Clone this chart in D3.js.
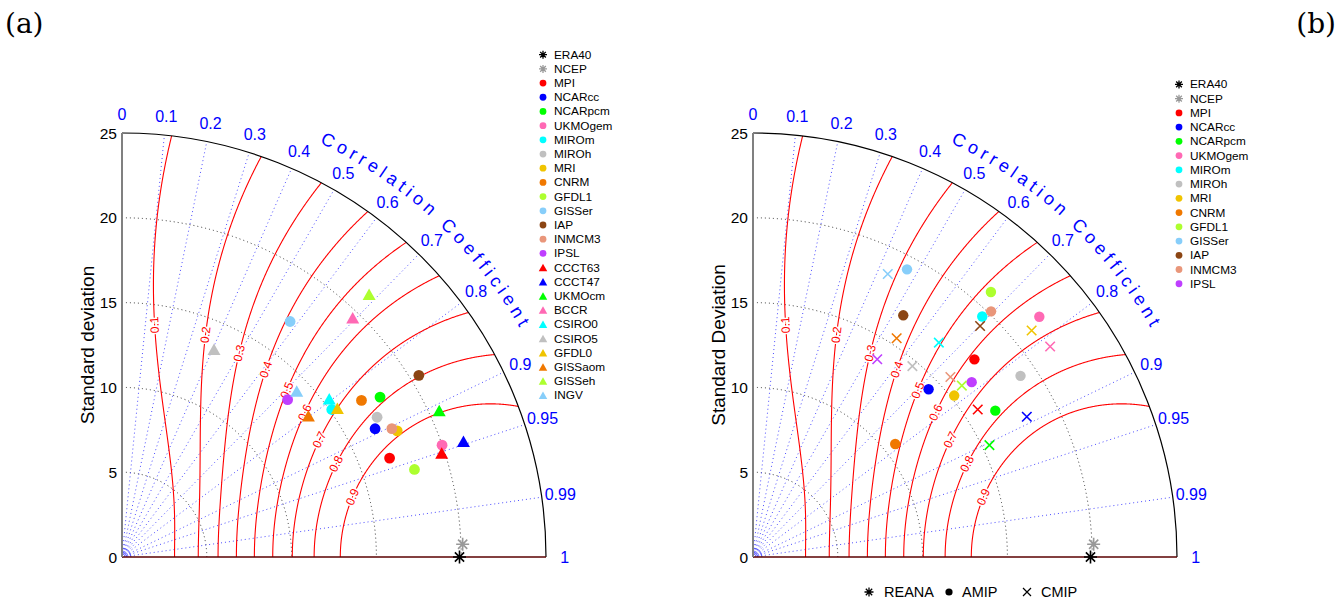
<!DOCTYPE html>
<html>
<head>
<meta charset="utf-8">
<script src="https://cdn.jsdelivr.net/npm/d3@7"></script>
<style>
  body { margin: 0; background: #fff; }
  svg text { font-family: "Liberation Sans", Arial, sans-serif; }
</style>
</head>
<body>
<svg id="chart" width="1344" height="607"></svg>
<script>
// ---- data ----
var modelNames = ["MPI", "NCARcc", "NCARpcm", "UKMOgem", "MIROm", "MIROh", "MRI", "CNRM", "GFDL1", "GISSer", "IAP", "INMCM3", "IPSL"];
var triNames = ["CCCT63", "CCCT47", "UKMOcm", "BCCR", "CSIRO0", "CSIRO5", "GFDL0", "GISSaom", "GISSeh", "INGV"];
var refNames = ["ERA40", "NCEP"];
var refStd = [19.9, 20.1];
var refCorr = [1, 0.9993];

// panel (a): circles and triangles
var aStd  = [16.82, 16.73, 17.9, 19.99, 15.12, 17.15, 17.85, 16.87, 18.0, 17.06, 20.52, 17.62, 13.47];
var aCorr = [0.938, 0.892, 0.850, 0.944, 0.818, 0.877, 0.909, 0.837, 0.958, 0.581, 0.853, 0.903, 0.725];
var aTriStd  = [19.82, 21.26, 20.6, 19.6, 15.37, 13.39, 15.43, 13.79, 21.27, 14.21];
var aTriCorr = [0.951, 0.947, 0.908, 0.694, 0.795, 0.405, 0.823, 0.797, 0.685, 0.725];

// panel (b): AMIP (dots) and CMIP (crosses)
var bAmipStd  = [17.5, 14.32, 16.69, 22.04, 19.59, 19.05, 15.21, 10.71, 21.0, 19.24, 16.78, 20.17, 16.51];
var bAmipCorr = [0.746, 0.723, 0.856, 0.766, 0.690, 0.828, 0.780, 0.783, 0.668, 0.472, 0.528, 0.696, 0.781];
var bCmipStd  = [15.85, 18.14, 15.42, 21.47, 16.73, 14.66, 21.17, 15.43, 15.93, 18.48, 19.1, 15.75, 13.77];
var bCmipCorr = [0.836, 0.890, 0.904, 0.816, 0.655, 0.641, 0.776, 0.549, 0.773, 0.430, 0.701, 0.739, 0.532];

var stdTicks = [0, 5, 10, 15, 20, 25];
var stdCircles = [5, 10, 15, 20];
var corrTicks = [0, 0.1, 0.2, 0.3, 0.4, 0.5, 0.6, 0.7, 0.8, 0.9, 0.95, 0.99, 1];
var skillLevels = [0.1, 0.2, 0.3, 0.4, 0.5, 0.6, 0.7, 0.8, 0.9];
var skillLabelAngle = [82, 69.4, 60.1, 52.5, 45.3, 38.3, 30.7, 23.5, 14.6];
var R0 = 0.961;

// colours
var modelColors = ["#ff0000", "#0000ff", "#00ff00", "#ff69b4", "#00ffff", "#c0c0c0", "#f0c400",
                   "#f07800", "#adff2f", "#87cefa", "#8b4513", "#e9967a", "#bf3eff"];
var triColors = ["#ff0000", "#0000ff", "#00ff00", "#ff69b4", "#00ffff", "#c0c0c0", "#f0c400",
                 "#f07800", "#adff2f", "#87cefa"];
var refColors = ["#000000", "#999999"];

var R = 424;
var r = d3.scaleLinear().domain([0, 25]).range([0, R]);
var svg = d3.select("#chart");

function pt(s, c) {
  var t = Math.acos(Math.max(-1, Math.min(1, c)));
  return [r(s) * Math.cos(t), -r(s) * Math.sin(t)];
}

function asterisk(size) {
  var h = size / 2, d = h * 0.7071;
  return "M" + (-h) + ",0L" + h + ",0M0," + (-h) + "L0," + h +
    "M" + (-d) + "," + (-d) + "L" + d + "," + d + "M" + (-d) + "," + d + "L" + d + "," + (-d);
}
function cross(size) {
  var h = size / 2;
  return "M" + (-h) + "," + (-h) + "L" + h + "," + h + "M" + (-h) + "," + h + "L" + h + "," + (-h);
}
function triangle(w, h) {
  return "M0," + (-h / 2) + "L" + (w / 2) + "," + (h / 2) + "L" + (-w / 2) + "," + (h / 2) + "Z";
}

// skill score S = 4(1+R)^4 / ((s+1/s)^2 (1+R0)^4)
function skillPoints(S, sref) {
  var Rs = Math.pow(S, 0.25) * (1 + R0) - 1;
  var tmax = Math.acos(Math.max(-1, Math.min(1, Rs)));
  var n = 600, inner = [], outer = [];
  for (var i = 0; i <= n; i++) {
    var u = i / n;
    var t = tmax * (1 - (1 - u) * (1 - u));
    var c = Math.cos(t);
    var K = 2 * Math.pow(1 + c, 2) / (Math.pow(1 + R0, 2) * Math.sqrt(S));
    var d = Math.sqrt(Math.max(0, K * K - 4));
    var lo = (K - d) / 2 * sref, hi = (K + d) / 2 * sref;
    inner.push([r(lo) * Math.cos(t), -r(lo) * Math.sin(t)]);
    outer.push([r(Math.min(hi, 60)) * Math.cos(t), -r(Math.min(hi, 60)) * Math.sin(t)]);
  }
  return inner.concat(outer.reverse());
}
function innerAt(S, sref, t) {
  var c = Math.cos(t);
  var K = 2 * Math.pow(1 + c, 2) / (Math.pow(1 + R0, 2) * Math.sqrt(S));
  var d = Math.sqrt(Math.max(0, K * K - 4));
  var lo = (K - d) / 2 * sref;
  return [r(lo) * Math.cos(t), -r(lo) * Math.sin(t)];
}

var line = d3.line();

function drawPanel(id, ox, oy, ylabel) {
  var g = svg.append("g").attr("transform", "translate(" + ox + "," + oy + ")");

  g.append("clipPath").attr("id", "clip" + id)
    .append("path")
    .attr("d", "M0,0L0," + (-R) + "A" + R + "," + R + " 0 0,1 " + R + ",0Z");

  // std dev dotted circles
  g.selectAll(".sc").data(stdCircles).enter().append("path")
    .attr("d", function(d) { return "M0," + (-r(d)) + "A" + r(d) + "," + r(d) + " 0 0,1 " + r(d) + ",0"; })
    .attr("fill", "none").attr("stroke", "#333").attr("stroke-width", 1)
    .attr("stroke-dasharray", "1,3");

  // correlation rays
  g.selectAll(".cr").data(corrTicks.filter(function(c) { return c > 0 && c < 1; })).enter().append("line")
    .attr("x1", 0).attr("y1", 0)
    .attr("x2", function(c) { return pt(25, c)[0]; })
    .attr("y2", function(c) { return pt(25, c)[1]; })
    .attr("stroke", "#4d4dff").attr("stroke-width", 1).attr("stroke-dasharray", "1,3");

  // tiny arcs at origin
  [3, 6, 9].forEach(function(a) {
    g.append("path").attr("d", "M0," + (-a) + "A" + a + "," + a + " 0 0,1 " + a + ",0")
      .attr("fill", "none").attr("stroke", "#4d4dff").attr("stroke-width", 0.8);
  });

  // skill contours
  var sk = g.append("g").attr("clip-path", "url(#clip" + id + ")");
  skillLevels.forEach(function(S) {
    sk.append("path").attr("d", line(skillPoints(S, refStd[0])))
      .attr("fill", "none").attr("stroke", "#ff0000").attr("stroke-width", 1.1);
  });
  skillLevels.forEach(function(S, i) {
    var t = skillLabelAngle[i] * Math.PI / 180;
    var p = innerAt(S, refStd[0], t);
    var p1 = innerAt(S, refStd[0], t - 0.01), p2 = innerAt(S, refStd[0], t + 0.01);
    var ang = Math.atan2(p2[1] - p1[1], p2[0] - p1[0]) * 180 / Math.PI;
    g.append("text")
      .attr("transform", "translate(" + p[0] + "," + p[1] + ") rotate(" + ang + ")")
      .attr("text-anchor", "middle").attr("dominant-baseline", "central")
      .attr("font-size", 12).attr("fill", "#ff0000")
      .attr("stroke", "#fff").attr("stroke-width", 3).attr("paint-order", "stroke")
      .text(S);
  });

  // axes
  g.append("path").attr("d", "M0," + (-R) + "A" + R + "," + R + " 0 0,1 " + R + ",0")
    .attr("fill", "none").attr("stroke", "#000").attr("stroke-width", 1.2);
  g.append("line").attr("x1", 0).attr("y1", 0).attr("x2", R).attr("y2", 0)
    .attr("stroke", "#5a0000").attr("stroke-width", 1.4);
  g.append("line").attr("x1", 0).attr("y1", 0).attr("x2", 0).attr("y2", -R)
    .attr("stroke", "#808080").attr("stroke-width", 2);

  g.selectAll(".yt").data(stdTicks).enter().append("text")
    .attr("x", -5).attr("y", function(d) { return -r(d); })
    .attr("text-anchor", "end").attr("dominant-baseline", "central")
    .attr("font-size", 15.5).attr("fill", "#000")
    .text(function(d) { return d; });

  g.append("text")
    .attr("transform", "translate(-35," + (-r(12.5)) + ") rotate(-90)")
    .attr("text-anchor", "middle").attr("dominant-baseline", "central")
    .attr("font-size", 19).text(ylabel);

  g.selectAll(".ct").data(corrTicks).enter().append("text")
    .attr("x", function(c) { return pt(26.1, c)[0]; })
    .attr("y", function(c) { return pt(26.1, c)[1]; })
    .attr("text-anchor", "middle").attr("dominant-baseline", "central")
    .attr("font-size", 16).attr("fill", "#0000ff")
    .text(function(c) { return c; });

  // curved title, one glyph at a time along the arc
  var title = "Correlation Coefficient".split("");
  var rb = 459, a0 = 64.5 * Math.PI / 180, a1 = 30 * Math.PI / 180;
  var tmp = g.append("text").attr("font-size", 18);
  var widths = title.map(function(ch) {
    tmp.text(ch === " " ? "\u00a0" : ch);
    return tmp.node().getComputedTextLength();
  });
  tmp.remove();
  var gap = (rb * (a0 - a1) - d3.sum(widths)) / (title.length - 1);
  var s = 0;
  title.forEach(function(ch, i) {
    var ang = a0 - (s + widths[i] / 2) / rb;
    s += widths[i] + gap;
    if (ch === " ") return;
    g.append("text")
      .attr("transform", "translate(" + rb * Math.cos(ang) + "," + (-rb * Math.sin(ang)) +
        ") rotate(" + (90 - ang * 180 / Math.PI) + ")")
      .attr("text-anchor", "middle").attr("font-size", 18).attr("fill", "#0000ff")
      .text(ch);
  });

  return g;
}

function drawRefs(g) {
  refNames.forEach(function(n, i) {
    var p = pt(refStd[i], refCorr[i]);
    g.append("path").attr("d", asterisk(13))
      .attr("transform", "translate(" + p[0] + "," + p[1] + ")")
      .attr("stroke", refColors[i]).attr("stroke-width", 1.6).attr("fill", "none");
  });
}

// ---------- panel (a) ----------
var ga = drawPanel("a", 122, 557, "Standard deviation");
drawRefs(ga);
ga.selectAll(".ma").data(modelNames).enter().append("circle")
  .attr("cx", function(d, i) { return pt(aStd[i], aCorr[i])[0]; })
  .attr("cy", function(d, i) { return pt(aStd[i], aCorr[i])[1]; })
  .attr("r", 5.4).attr("fill", function(d, i) { return modelColors[i]; });
ga.selectAll(".ta").data(triNames).enter().append("path")
  .attr("d", triangle(13, 11.5))
  .attr("transform", function(d, i) { var p = pt(aTriStd[i], aTriCorr[i]); return "translate(" + p[0] + "," + p[1] + ")"; })
  .attr("fill", function(d, i) { return triColors[i]; });

// ---------- panel (b) ----------
var gb = drawPanel("b", 753, 557, "Standard Deviation");
drawRefs(gb);
gb.selectAll(".mb").data(modelNames).enter().append("circle")
  .attr("cx", function(d, i) { return pt(bAmipStd[i], bAmipCorr[i])[0]; })
  .attr("cy", function(d, i) { return pt(bAmipStd[i], bAmipCorr[i])[1]; })
  .attr("r", 5.2).attr("fill", function(d, i) { return modelColors[i]; });
gb.selectAll(".xb").data(modelNames).enter().append("path")
  .attr("d", cross(9.5))
  .attr("transform", function(d, i) { var p = pt(bCmipStd[i], bCmipCorr[i]); return "translate(" + p[0] + "," + p[1] + ")"; })
  .attr("stroke", function(d, i) { return modelColors[i]; })
  .attr("stroke-width", 1.6).attr("fill", "none");

// ---------- legends ----------
function legend(x, y0, step, items) {
  var lg = svg.append("g");
  items.forEach(function(it, i) {
    var y = y0 + i * step;
    var s = lg.append("g").attr("transform", "translate(" + x + "," + y + ")");
    if (it.type === "ast") s.append("path").attr("d", asterisk(8)).attr("stroke", it.color).attr("stroke-width", 1.3);
    if (it.type === "dot") s.append("circle").attr("r", 3.4).attr("fill", it.color);
    if (it.type === "tri") s.append("path").attr("d", triangle(8.5, 7.5)).attr("fill", it.color);
    lg.append("text").attr("x", x + 11).attr("y", y).attr("dominant-baseline", "central")
      .attr("font-size", 11.8).attr("fill", "#000").text(it.name);
  });
}
var itemsA = refNames.map(function(n, i) { return { name: n, type: "ast", color: refColors[i] }; })
  .concat(modelNames.map(function(n, i) { return { name: n, type: "dot", color: modelColors[i] }; }))
  .concat(triNames.map(function(n, i) { return { name: n, type: "tri", color: triColors[i] }; }));
var itemsB = refNames.map(function(n, i) { return { name: n, type: "ast", color: refColors[i] }; })
  .concat(modelNames.map(function(n, i) { return { name: n, type: "dot", color: modelColors[i] }; }));
legend(543, 54.7, 14.19, itemsA);
legend(1179, 84.4, 14.24, itemsB);

// bottom legend of panel (b)
var bl = svg.append("g").attr("transform", "translate(0,592)");
bl.append("path").attr("d", asterisk(9)).attr("transform", "translate(869,0)").attr("stroke", "#000").attr("stroke-width", 1.3);
bl.append("text").attr("x", 884).attr("dominant-baseline", "central").attr("font-size", 14.5).text("REANA");
bl.append("circle").attr("cx", 949).attr("r", 3.6).attr("fill", "#000");
bl.append("text").attr("x", 962).attr("dominant-baseline", "central").attr("font-size", 14.5).text("AMIP");
bl.append("path").attr("d", cross(8)).attr("transform", "translate(1027,0)").attr("stroke", "#000").attr("stroke-width", 1.2);
bl.append("text").attr("x", 1041).attr("dominant-baseline", "central").attr("font-size", 14.5).text("CMIP");

// panel tags
svg.append("text").attr("x", 5).attr("y", 33).attr("font-size", 28)
  .style("font-family", "'DejaVu Serif', serif").text("(a)");
svg.append("text").attr("x", 1336).attr("y", 33).attr("font-size", 28).attr("text-anchor", "end")
  .style("font-family", "'DejaVu Serif', serif").text("(b)");
</script>
</body>
</html>
